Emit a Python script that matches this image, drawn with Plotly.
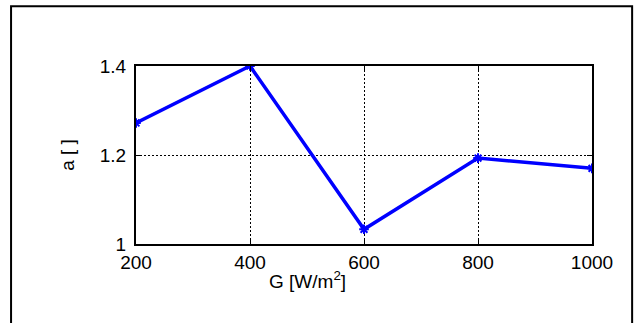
import plotly.graph_objects as go

# Irradiance G [W/m^2] and ideality factor a
irradiance = [200, 400, 600, 800, 1000]
a_factor = [1.272, 1.400, 1.033, 1.193, 1.170]

x_ticks = [200, 400, 600, 800, 1000]
y_ticks = [1.0, 1.2, 1.4]
y_tick_text = ["1", "1.2", "1.4"]

FONT = "Liberation Sans, Arial"
FS = 19

fig = go.Figure()
fig.add_trace(go.Scatter(
    x=irradiance, y=a_factor,
    mode="lines+markers",
    line=dict(color="#0000ff", width=3.5),
    marker=dict(symbol="asterisk-open", size=8, color="#0000ff",
                line=dict(color="#0000ff", width=2)),
    showlegend=False,
))

axis_common = dict(
    showline=True, linecolor="black", linewidth=2, mirror="ticks",
    ticks="inside", ticklen=5, tickcolor="black", tickwidth=1,
    showgrid=True, gridcolor="black", griddash="2px,2px", gridwidth=1,
    zeroline=False,
    tickfont=dict(family=FONT, size=FS, color="black"),
)

fig.update_xaxes(range=[200, 1000], tickvals=x_ticks, ticklabelstandoff=0, **axis_common)
fig.update_yaxes(range=[1.0, 1.4], tickvals=y_ticks, ticktext=y_tick_text,
                 ticklabelstandoff=4,
                 title=dict(text="a [ ]", standoff=20,
                            font=dict(family=FONT, size=FS, color="black")),
                 **axis_common)

fig.add_annotation(
    x=0.377, y=-0.2, xref="paper", yref="paper",
    text="G [W/m<sup>2</sup>]", showarrow=False, yanchor="middle",
    font=dict(family=FONT, size=FS, color="black"),
)

# Outer figure frame
fig.add_shape(type="rect", xref="paper", yref="paper",
              x0=-0.274, x1=1.088, y0=-0.5, y1=1.335,
              line=dict(color="black", width=2), fillcolor="rgba(0,0,0,0)")

fig.update_layout(
    width=639, height=323,
    margin=dict(l=136, r=47, t=66, b=79),
    paper_bgcolor="white", plot_bgcolor="white",
)

fig.write_html("out.html")
